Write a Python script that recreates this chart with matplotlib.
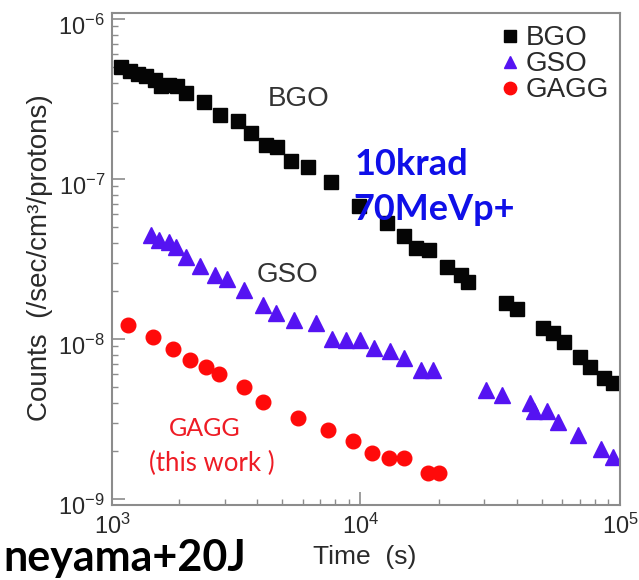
import matplotlib
matplotlib.use("Agg")
import matplotlib.pyplot as plt
from matplotlib.ticker import LogLocator, FixedLocator, FixedFormatter, NullFormatter
from matplotlib.transforms import ScaledTranslation

plt.rcParams['font.family'] = ['Liberation Sans', 'DejaVu Sans']
plt.rcParams['mathtext.fontset'] = 'custom'
plt.rcParams['mathtext.rm'] = 'Liberation Sans'
plt.rcParams['mathtext.it'] = 'Liberation Sans:italic'
plt.rcParams['mathtext.bf'] = 'Liberation Sans:bold'

# ---------------- data ----------------
bgo_time = [1195, 1294, 1390, 1492, 1616, 1704, 1830, 1965, 2129, 2498, 2880, 3381,
            3795, 4336, 4781, 5415, 6299, 7727, 9849, 12680, 14700, 16310, 18350,
            21480, 24330, 26050, 36290, 40270, 50290, 54970, 60940, 70270, 76780,
            86990, 93710]
bgo_counts = [5.01e-7, 4.73e-7, 4.53e-7, 4.40e-7, 4.16e-7, 3.81e-7, 3.87e-7, 3.81e-7,
              3.45e-7, 3.03e-7, 2.51e-7, 2.30e-7, 1.94e-7, 1.63e-7, 1.585e-7, 1.30e-7,
              1.19e-7, 9.58e-8, 6.78e-8, 5.29e-8, 4.40e-8, 3.69e-8, 3.60e-8, 2.81e-8,
              2.51e-8, 2.26e-8, 1.69e-8, 1.53e-8, 1.17e-8, 1.09e-8, 9.62e-9, 7.69e-9,
              6.71e-9, 5.68e-9, 5.28e-9]

gso_time = [1555, 1679, 1835, 1942, 2129, 2411, 2755, 3058, 3543, 4210, 4726, 5526,
            6745, 7777, 8806, 9938, 11260, 12940, 14700, 17050, 19020, 30390, 35250,
            44930, 46690, 52250, 57480, 68650, 84470, 93710]
gso_counts = [4.47e-8, 4.16e-8, 4.06e-8, 3.78e-8, 3.27e-8, 2.86e-8, 2.51e-8, 2.36e-8,
              2.02e-8, 1.63e-8, 1.45e-8, 1.32e-8, 1.25e-8, 1.00e-8, 0.99e-8, 0.99e-8,
              8.75e-9, 8.45e-9, 7.57e-9, 6.40e-9, 6.40e-9, 4.80e-9, 4.47e-9, 4.00e-9,
              3.55e-9, 3.55e-9, 3.04e-9, 2.51e-9, 2.05e-9, 1.84e-9]

gagg_time = [1275, 1592, 1902, 2206, 2537, 2855, 3543, 4210, 5747, 7506, 9373, 11100,
             12860, 14700, 18250, 20060]
gagg_counts = [1.224e-8, 1.025e-8, 8.62e-9, 7.39e-9, 6.65e-9, 6.04e-9, 4.99e-9, 4.02e-9,
               3.22e-9, 2.70e-9, 2.30e-9, 1.95e-9, 1.80e-9, 1.80e-9, 1.46e-9, 1.46e-9]

series_names = ["BGO", "GSO", "GAGG"]
xtick_values = [1103, 1e4, 1e5]
xtick_labels = [r"$\mathdefault{10^{3}}$", r"$\mathdefault{10^{4}}$", r"$\mathdefault{10^{5}}$"]

# ---------------- figure ----------------
fig = plt.figure(figsize=(6.39, 5.80), dpi=100)
ax = fig.add_axes([112/639, 1 - 505/580, 508/639, 492/580])

c_bgo = '#050505'
c_gso = '#5513f2'
c_gagg = '#ff0a0a'

ax.plot(bgo_time, bgo_counts, ls='none', marker='s', ms=10.5, color=c_bgo, mec=c_bgo,
        label=series_names[0])
ax.plot(gso_time, gso_counts, ls='none', marker='^', ms=11, color=c_gso, mec=c_gso,
        label=series_names[1])
ax.plot(gagg_time, gagg_counts, ls='none', marker='o', ms=10.5, color=c_gagg, mec=c_gagg,
        label=series_names[2])

ax.set_xscale('log')
ax.set_yscale('log')
ax.set_xlim(1103, 1e5)
ax.set_ylim(10**-9.0375, 10**-5.9625)

ax.xaxis.set_major_locator(FixedLocator(xtick_values))
ax.xaxis.set_major_formatter(FixedFormatter(xtick_labels))
ax.xaxis.set_minor_locator(LogLocator(base=10, subs=range(2, 10), numticks=20))
ax.xaxis.set_minor_formatter(NullFormatter())
ax.yaxis.set_major_locator(LogLocator(base=10, numticks=10))
ax.yaxis.set_minor_locator(LogLocator(base=10, subs=range(2, 10), numticks=20))
ax.yaxis.set_minor_formatter(NullFormatter())

spine_c = '#8c8c8c'
for s in ax.spines.values():
    s.set_color(spine_c)
    s.set_linewidth(1.5)
ax.tick_params(which='both', direction='in', color=spine_c, top=False, right=False,
               labelsize=17, labelcolor='#2a2a2a')
ax.tick_params(which='major', length=9.5, width=1.2)
ax.tick_params(which='minor', length=4.5, width=1.0)
ax.tick_params(axis='x', which='major', pad=6)
ax.tick_params(axis='y', which='major', pad=5)

offset = ScaledTranslation(0, -6/100, fig.dpi_scale_trans)
for lab in ax.get_yticklabels():
    lab.set_transform(lab.get_transform() + offset)

# axis labels
fig.text(40/639, 1 - 258/580, "Counts  (/sec/cm\u00b3/protons)", rotation=90,
         ha='center', va='center', fontsize=20, color='#2a2a2a')
fig.text(365/639, 1 - 557/580, "Time  (s)", ha='center', va='center',
         fontsize=19, color='#2a2a2a')

# annotations
fig.text(299/639, 1 - 99/580, "BGO", ha='center', va='center', fontsize=20, color='#333333')
fig.text(287/639, 1 - 275/580, "GSO", ha='center', va='center', fontsize=20, color='#333333')
fig.text(205/639, 1 - 428/580, "GAGG", ha='center', va='center', fontsize=18,
         color='#ee1c25', family=['Lato', 'DejaVu Sans'])
fig.text(212/639, 1 - 463/580, "(this work )", ha='center', va='center', fontsize=18.5,
         color='#ee1c25', family=['Lato', 'DejaVu Sans'])
fig.text(355/639, 1 - 175/580, "10krad", ha='left', va='baseline', fontsize=26,
         fontweight='bold', color='#0f0fe8', family=['Lato', 'DejaVu Sans'])
fig.text(353/639, 1 - 220/580, "70MeVp+", ha='left', va='baseline', fontsize=26,
         fontweight='bold', color='#0f0fe8', family=['Lato', 'DejaVu Sans'])

# citation text (visible part)
fig.text(3/639, 1 - 571/580, "neyama+20J", ha='left', va='baseline', fontsize=31,
         fontweight='bold', color='black', family=['Lato', 'DejaVu Sans'])

leg = ax.legend(loc='upper right', bbox_to_anchor=(0.978, 0.975), frameon=False,
                fontsize=20, borderpad=0, borderaxespad=0, labelspacing=0.0,
                handlelength=0.6, handletextpad=0.25, numpoints=1, markerscale=0.85)
for t in leg.get_texts():
    t.set_color('#2a2a2a')

fig.savefig("out.png", dpi=100)
